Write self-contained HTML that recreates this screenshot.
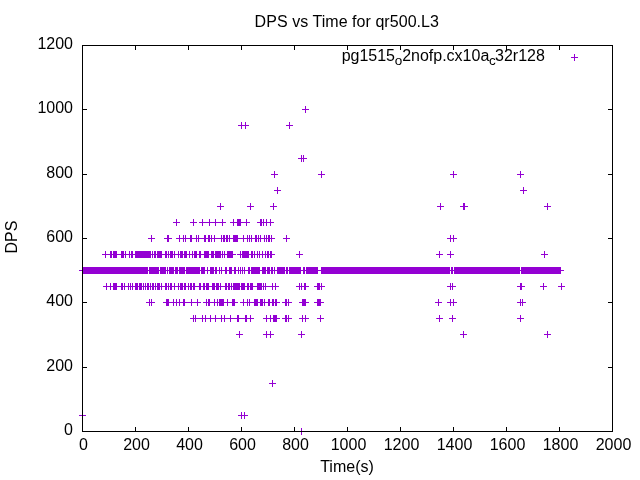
<!DOCTYPE html>
<html><head><meta charset="utf-8"><title>DPS vs Time for qr500.L3</title>
<style>html,body{margin:0;padding:0;background:#fff}body{width:640px;height:480px;overflow:hidden}svg{display:block}text{font-family:"Liberation Sans",sans-serif;font-size:16px;fill:#000}</style></head><body>
<svg width="640" height="480" viewBox="0 0 640 480">
<rect width="640" height="480" fill="#fff"/>
<g fill="#9400d3" shape-rendering="crispEdges">
<path d="M305 106h1v7h-1zM302 109h7v1h-7z"/>
<path d="M241 122h1v7h-1zM245 122h1v7h-1zM289 122h1v7h-1zM238 125h11v1h-11zM286 125h7v1h-7z"/>
<path d="M301 155h1v7h-1zM303 155h1v7h-1zM298 158h9v1h-9z"/>
<path d="M274 171h1v7h-1zM321 171h1v7h-1zM453 171h1v7h-1zM520 171h1v7h-1zM271 174h7v1h-7zM318 174h7v1h-7zM450 174h7v1h-7zM517 174h7v1h-7z"/>
<path d="M277 187h1v7h-1zM523 187h1v7h-1zM274 190h7v1h-7zM520 190h7v1h-7z"/>
<path d="M220 203h1v7h-1zM250 203h1v7h-1zM273 203h1v7h-1zM440 203h1v7h-1zM463 203h2v7h-2zM547 203h1v7h-1zM217 206h7v1h-7zM247 206h7v1h-7zM270 206h7v1h-7zM437 206h7v1h-7zM460 206h8v1h-8zM544 206h7v1h-7z"/>
<path d="M176 219h1v7h-1zM193 219h1v7h-1zM202 219h1v7h-1zM209 219h1v7h-1zM215 219h1v7h-1zM222 219h1v7h-1zM233 219h1v7h-1zM237 219h4v7h-4zM246 219h1v7h-1zM260 219h2v7h-2zM263 219h1v7h-1zM266 219h1v7h-1zM270 219h1v7h-1zM173 222h7v1h-7zM190 222h7v1h-7zM199 222h27v1h-27zM230 222h20v1h-20zM257 222h17v1h-17z"/>
<path d="M151 235h1v7h-1zM167 235h2v7h-2zM179 235h1v7h-1zM183 235h1v7h-1zM185 235h1v7h-1zM190 235h2v7h-2zM196 235h1v7h-1zM198 235h1v7h-1zM204 235h2v7h-2zM208 235h2v7h-2zM211 235h1v7h-1zM214 235h1v7h-1zM221 235h1v7h-1zM223 235h2v7h-2zM226 235h2v7h-2zM229 235h1v7h-1zM233 235h5v7h-5zM243 235h1v7h-1zM247 235h1v7h-1zM249 235h1v7h-1zM251 235h1v7h-1zM255 235h2v7h-2zM258 235h1v7h-1zM260 235h1v7h-1zM264 235h1v7h-1zM266 235h1v7h-1zM268 235h2v7h-2zM271 235h1v7h-1zM286 235h1v7h-1zM450 235h1v7h-1zM453 235h1v7h-1zM148 238h7v1h-7zM164 238h8v1h-8zM176 238h99v1h-99zM283 238h7v1h-7zM447 238h10v1h-10z"/>
<path d="M105 251h1v7h-1zM110 251h2v7h-2zM113 251h4v7h-4zM121 251h3v7h-3zM125 251h1v7h-1zM129 251h1v7h-1zM131 251h2v7h-2zM135 251h16v7h-16zM152 251h1v7h-1zM154 251h2v7h-2zM157 251h5v7h-5zM165 251h2v7h-2zM168 251h1v7h-1zM170 251h3v7h-3zM174 251h1v7h-1zM178 251h1v7h-1zM180 251h3v7h-3zM184 251h3v7h-3zM189 251h1v7h-1zM192 251h1v7h-1zM194 251h3v7h-3zM199 251h2v7h-2zM204 251h5v7h-5zM211 251h3v7h-3zM215 251h6v7h-6zM222 251h1v7h-1zM224 251h1v7h-1zM227 251h6v7h-6zM240 251h1v7h-1zM242 251h7v7h-7zM251 251h2v7h-2zM254 251h1v7h-1zM257 251h1v7h-1zM259 251h1v7h-1zM262 251h1v7h-1zM265 251h1v7h-1zM267 251h2v7h-2zM270 251h2v7h-2zM299 251h1v7h-1zM439 251h1v7h-1zM450 251h1v7h-1zM544 251h1v7h-1zM102 254h134v1h-134zM237 254h38v1h-38zM296 254h7v1h-7zM436 254h7v1h-7zM447 254h7v1h-7zM541 254h7v1h-7z"/>
<path d="M82 267h66v7h-66zM149 267h10v7h-10zM160 267h6v7h-6zM167 267h1v7h-1zM169 267h5v7h-5zM175 267h3v7h-3zM179 267h6v7h-6zM186 267h14v7h-14zM201 267h4v7h-4zM207 267h1v7h-1zM210 267h4v7h-4zM215 267h2v7h-2zM219 267h1v7h-1zM221 267h1v7h-1zM225 267h2v7h-2zM229 267h3v7h-3zM234 267h2v7h-2zM238 267h1v7h-1zM240 267h1v7h-1zM242 267h1v7h-1zM244 267h1v7h-1zM248 267h2v7h-2zM251 267h9v7h-9zM262 267h4v7h-4zM267 267h3v7h-3zM271 267h2v7h-2zM274 267h1v7h-1zM277 267h8v7h-8zM286 267h2v7h-2zM289 267h12v7h-12zM303 267h2v7h-2zM306 267h12v7h-12zM321 267h129v7h-129zM451 267h2v7h-2zM454 267h66v7h-66zM521 267h40v7h-40zM79 270h485v1h-485z"/>
<path d="M106 283h1v7h-1zM110 283h1v7h-1zM113 283h4v7h-4zM121 283h2v7h-2zM124 283h1v7h-1zM128 283h1v7h-1zM130 283h1v7h-1zM132 283h1v7h-1zM135 283h3v7h-3zM139 283h3v7h-3zM143 283h1v7h-1zM145 283h1v7h-1zM147 283h2v7h-2zM150 283h1v7h-1zM152 283h2v7h-2zM155 283h1v7h-1zM157 283h3v7h-3zM161 283h1v7h-1zM165 283h2v7h-2zM168 283h1v7h-1zM170 283h2v7h-2zM174 283h1v7h-1zM178 283h1v7h-1zM180 283h3v7h-3zM184 283h2v7h-2zM188 283h1v7h-1zM190 283h2v7h-2zM193 283h2v7h-2zM199 283h2v7h-2zM203 283h2v7h-2zM206 283h3v7h-3zM212 283h3v7h-3zM216 283h3v7h-3zM220 283h1v7h-1zM225 283h2v7h-2zM228 283h2v7h-2zM231 283h1v7h-1zM233 283h7v7h-7zM241 283h4v7h-4zM247 283h2v7h-2zM250 283h3v7h-3zM257 283h5v7h-5zM263 283h1v7h-1zM265 283h1v7h-1zM272 283h1v7h-1zM275 283h1v7h-1zM299 283h1v7h-1zM301 283h1v7h-1zM304 283h2v7h-2zM317 283h3v7h-3zM321 283h1v7h-1zM450 283h1v7h-1zM452 283h1v7h-1zM520 283h2v7h-2zM543 283h1v7h-1zM561 283h1v7h-1zM103 286h176v1h-176zM296 286h13v1h-13zM314 286h11v1h-11zM447 286h9v1h-9zM517 286h8v1h-8zM540 286h7v1h-7zM558 286h7v1h-7z"/>
<path d="M149 299h1v7h-1zM151 299h1v7h-1zM166 299h3v7h-3zM173 299h1v7h-1zM176 299h1v7h-1zM179 299h1v7h-1zM183 299h2v7h-2zM191 299h1v7h-1zM197 299h1v7h-1zM206 299h1v7h-1zM208 299h2v7h-2zM214 299h1v7h-1zM217 299h1v7h-1zM219 299h5v7h-5zM227 299h1v7h-1zM232 299h3v7h-3zM243 299h1v7h-1zM247 299h1v7h-1zM249 299h1v7h-1zM254 299h4v7h-4zM260 299h3v7h-3zM264 299h1v7h-1zM268 299h2v7h-2zM272 299h2v7h-2zM275 299h2v7h-2zM285 299h2v7h-2zM288 299h1v7h-1zM302 299h4v7h-4zM317 299h4v7h-4zM438 299h1v7h-1zM450 299h1v7h-1zM453 299h1v7h-1zM520 299h1v7h-1zM522 299h1v7h-1zM146 302h9v1h-9zM163 302h38v1h-38zM203 302h35v1h-35zM240 302h40v1h-40zM282 302h10v1h-10zM299 302h10v1h-10zM314 302h10v1h-10zM435 302h7v1h-7zM447 302h10v1h-10zM517 302h9v1h-9z"/>
<path d="M193 315h1v7h-1zM195 315h1v7h-1zM202 315h1v7h-1zM205 315h1v7h-1zM210 315h1v7h-1zM215 315h1v7h-1zM221 315h1v7h-1zM224 315h1v7h-1zM230 315h1v7h-1zM237 315h2v7h-2zM245 315h2v7h-2zM250 315h1v7h-1zM266 315h1v7h-1zM270 315h1v7h-1zM273 315h4v7h-4zM285 315h2v7h-2zM288 315h1v7h-1zM302 315h1v7h-1zM305 315h1v7h-1zM320 315h1v7h-1zM439 315h1v7h-1zM452 315h1v7h-1zM520 315h1v7h-1zM190 318h64v1h-64zM263 318h17v1h-17zM282 318h10v1h-10zM299 318h10v1h-10zM317 318h7v1h-7zM436 318h7v1h-7zM449 318h7v1h-7zM517 318h7v1h-7z"/>
<path d="M239 331h1v7h-1zM266 331h1v7h-1zM270 331h1v7h-1zM301 331h1v7h-1zM463 331h1v7h-1zM547 331h1v7h-1zM236 334h7v1h-7zM263 334h11v1h-11zM298 334h7v1h-7zM460 334h7v1h-7zM544 334h7v1h-7z"/>
<path d="M272 380h1v7h-1zM269 383h7v1h-7z"/>
<path d="M82 412h1v7h-1zM241 412h1v7h-1zM244 412h1v7h-1zM79 415h7v1h-7zM238 415h10v1h-10z"/>
<path d="M301 428h1v7h-1zM298 431h7v1h-7z"/>
<path d="M574 54h1v7h-1zM571 57h7v1h-7z"/>
</g>
<path fill="#000" shape-rendering="crispEdges" d="M82 45h531v1h-531zM82 431h531v1h-531zM82 45h1v387h-1zM612 45h1v387h-1zM135 427h1v4h-1zM135 46h1v4h-1zM188 427h1v4h-1zM188 46h1v4h-1zM241 427h1v4h-1zM241 46h1v4h-1zM294 427h1v4h-1zM294 46h1v4h-1zM347 427h1v4h-1zM347 46h1v4h-1zM400 427h1v4h-1zM400 46h1v4h-1zM453 427h1v4h-1zM453 46h1v4h-1zM506 427h1v4h-1zM506 46h1v4h-1zM559 427h1v4h-1zM559 46h1v4h-1zM83 367h4v1h-4zM608 367h4v1h-4zM83 302h4v1h-4zM608 302h4v1h-4zM83 238h4v1h-4zM608 238h4v1h-4zM83 174h4v1h-4zM608 174h4v1h-4zM83 109h4v1h-4zM608 109h4v1h-4z"/>
<g>
<text x="346.8" y="27" text-anchor="middle" letter-spacing="0.05">DPS vs Time for qr500.L3</text>
<text x="73" y="435" text-anchor="end">0</text>
<text x="73" y="371" text-anchor="end">200</text>
<text x="73" y="306" text-anchor="end">400</text>
<text x="73" y="242" text-anchor="end">600</text>
<text x="73" y="178" text-anchor="end">800</text>
<text x="73" y="113" text-anchor="end">1000</text>
<text x="73" y="49" text-anchor="end">1200</text>
<text x="83.5" y="450" text-anchor="middle">0</text>
<text x="136.5" y="450" text-anchor="middle">200</text>
<text x="189.5" y="450" text-anchor="middle">400</text>
<text x="242.5" y="450" text-anchor="middle">600</text>
<text x="295.5" y="450" text-anchor="middle">800</text>
<text x="348.5" y="450" text-anchor="middle">1000</text>
<text x="401.5" y="450" text-anchor="middle">1200</text>
<text x="454.5" y="450" text-anchor="middle">1400</text>
<text x="507.5" y="450" text-anchor="middle">1600</text>
<text x="560.5" y="450" text-anchor="middle">1800</text>
<text x="613.5" y="450" text-anchor="middle">2000</text>
<text x="347" y="472" text-anchor="middle">Time(s)</text>
<text transform="translate(16.8,237) rotate(-90)" text-anchor="middle">DPS</text>
<text x="341.63" y="61.3">pg1515<tspan font-size="13.5" dy="4" dx="-0.2">o</tspan><tspan dy="-4" dx="-0.2">2nofp.cx10a</tspan><tspan font-size="13.5" dy="4" dx="-0.3">c</tspan><tspan dy="-4" dx="-0.7">32r128</tspan></text>
</g>
</svg>
</body></html>
